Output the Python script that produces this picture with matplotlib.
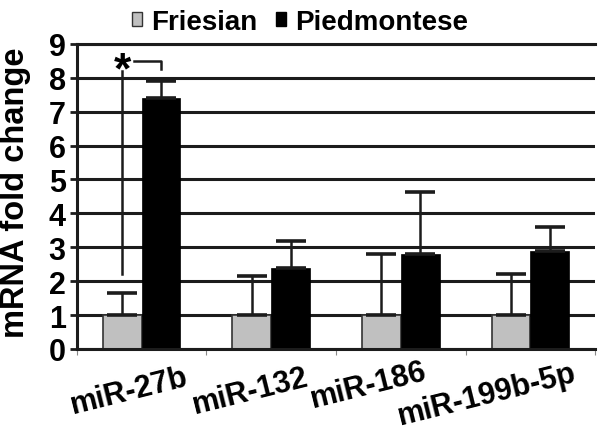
import matplotlib.pyplot as plt
import numpy as np
from matplotlib.patches import Patch

plt.rcParams["font.family"] = ["Liberation Sans", "DejaVu Sans"]
plt.rcParams["font.weight"] = "bold"

# data
mirnas = ["miR-27b", "miR-132", "miR-186", "miR-199b-5p"]
friesian = [1.0, 1.0, 1.0, 1.0]
friesian_err = [0.65, 1.15, 1.8, 1.2]
piedmontese = [7.4, 2.4, 2.8, 2.9]
piedmontese_err = [0.5, 0.78, 1.82, 0.7]
yticks = list(range(10))

# label offsets (points) from category centre, mimicking the Excel layout
label_dx = [-9, -15, -23, -31]
label_dy = [-30, -30, -26, -33]

GRID = "#1c1c1c"
width = 0.3

fig = plt.figure(figsize=(6, 4.31), dpi=100)
ax = fig.add_axes([0.128, 0.188, 0.864, 0.708])

x = np.arange(len(mirnas))
ax.bar(x - width / 2, friesian, width, color="#c0c0c0", edgecolor="#333333",
       linewidth=1.2, zorder=2)
ax.bar(x + width / 2, piedmontese, width, color="black", edgecolor="black",
       linewidth=0.5, zorder=2)

err_kw = dict(fmt="none", ecolor=GRID, elinewidth=1.8, capsize=11, capthick=2.6, zorder=3)
ax.errorbar(x - width / 2, friesian, yerr=[np.zeros(len(x)), friesian_err], **err_kw)
ax.errorbar(x + width / 2, piedmontese, yerr=[np.zeros(len(x)), piedmontese_err], **err_kw)

# significance marker for miR-27b
ax.plot([x[0] - width / 2, x[0] - width / 2], [2.2, 8.2], color=GRID, lw=1.8, zorder=3)
ax.plot([x[0] - 0.06, x[0] + width / 2, x[0] + width / 2], [8.5, 8.5, 8.25],
        color=GRID, lw=1.8, zorder=3)
ax.text(x[0] - width / 2, 8.2, "*", fontsize=32, fontweight="bold",
        ha="center", va="center", zorder=4)

ax.set_xlim(-0.5, len(mirnas) - 0.5)
ax.set_ylim(0, 9)
ax.set_yticks(yticks)
ax.set_yticklabels([str(t) for t in yticks], fontsize=22, fontweight="bold")
ax.yaxis.grid(True, color=GRID, linewidth=2.2)
ax.set_axisbelow(True)

for side in ["left", "bottom", "top"]:
    ax.spines[side].set_color(GRID)
    ax.spines[side].set_linewidth(2.2)
ax.spines["right"].set_visible(False)
ax.tick_params(axis="y", length=5, width=2, color=GRID, pad=3)

ax.set_xticks(x)
ax.set_xticklabels([])
ax.tick_params(axis="x", which="major", length=0)
ax.set_xticks(np.arange(len(mirnas) + 1) - 0.5, minor=True)
ax.tick_params(axis="x", which="minor", length=4, width=0.8, color="#888888")

for i, name in enumerate(mirnas):
    ax.annotate(name, xy=(x[i], 0), xycoords="data",
                xytext=(label_dx[i], label_dy[i]), textcoords="offset points",
                ha="center", va="center", rotation=14, fontsize=22,
                fontweight="bold", annotation_clip=False)

ax.set_ylabel("mRNA fold change", fontsize=23.5, fontweight="bold")
ax.yaxis.set_label_coords(-0.088, 0.515)

handles = [Patch(facecolor="#c0c0c0", edgecolor="#333333", linewidth=1.0),
           Patch(facecolor="black", edgecolor="black")]
fig.legend(handles, ["Friesian", "Piedmontese"], loc="upper center",
           bbox_to_anchor=(0.5, 1.035), ncol=2, frameon=False,
           prop={"size": 20, "weight": "bold"}, handlelength=0.36,
           handleheight=0.36, handletextpad=0.3, columnspacing=0.7)

fig.savefig("out.png", dpi=100)
